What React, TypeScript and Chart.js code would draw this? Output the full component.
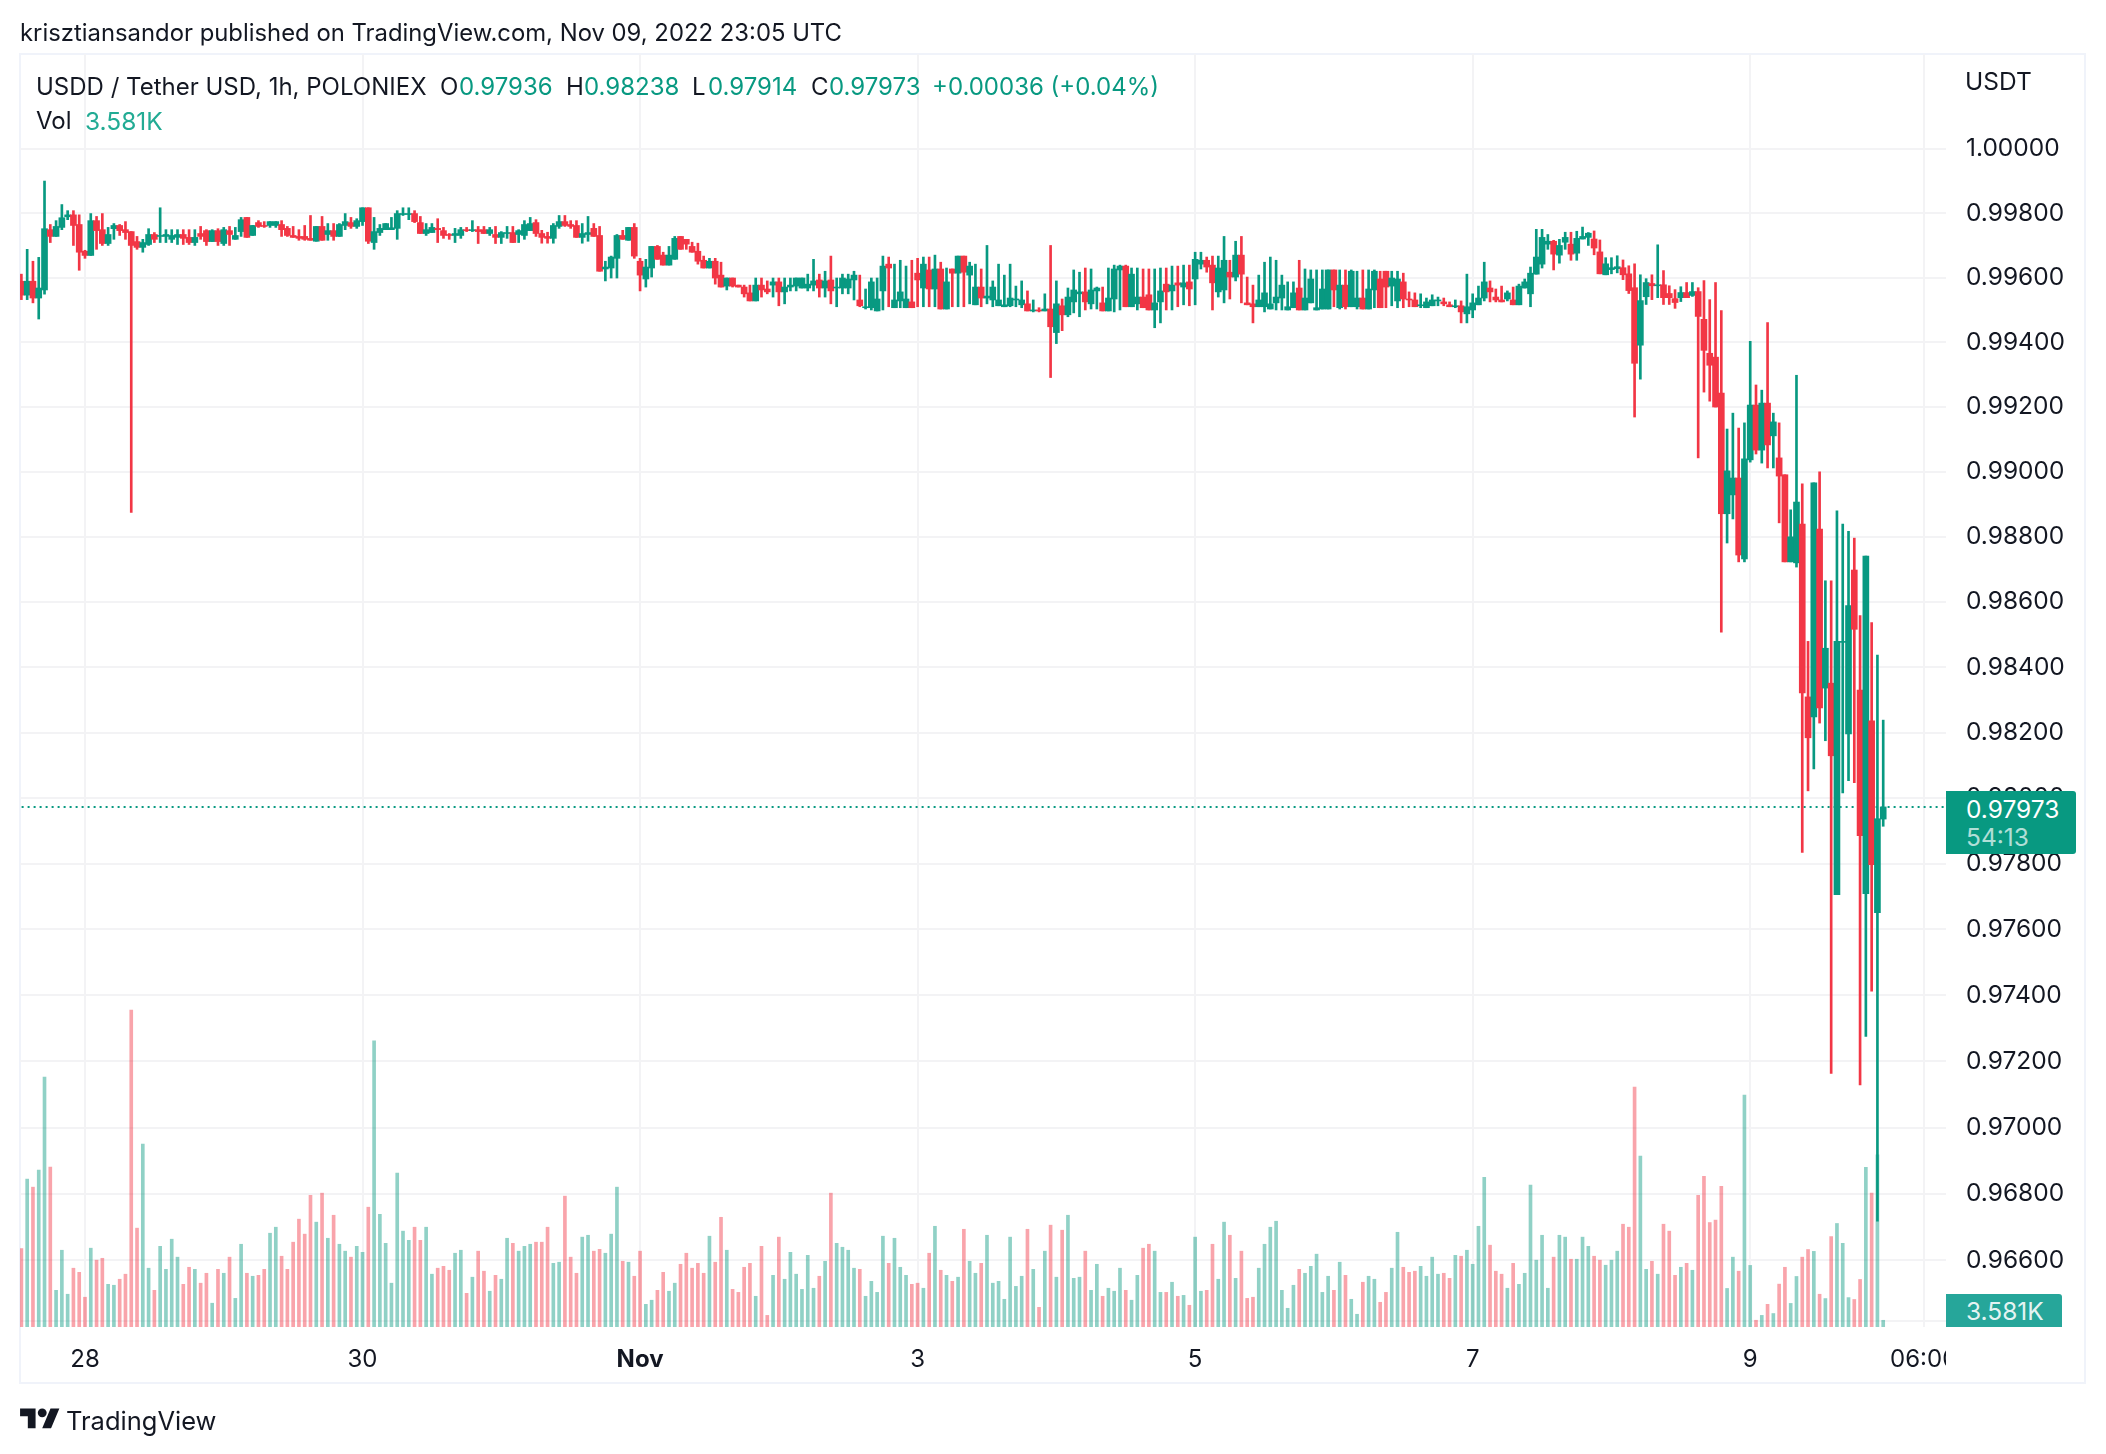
import { useEffect, useRef } from "react";
import { Chart, registerables } from "chart.js";

Chart.register(...registerables);

// USDD/USDT 1h candles, prices in 1/100000 USDT
const opens = [
  99589,99546,99589,99537,99562,99749,99728,99756,99789,99795,
  99765,99682,99669,99777,99749,99706,99752,99762,99749,99743,
  99712,99694,99703,99734,99728,99728,99719,99725,99734,99725,
  99709,99737,99746,99712,99746,99706,99746,99719,99743,99787,
  99731,99771,99762,99762,99762,99765,99753,99731,99728,99728,
  99722,99713,99759,99734,99746,99728,99762,99771,99759,99774,
  99817,99709,99740,99749,99749,99753,99796,99796,99799,99771,
  99737,99740,99753,99746,99734,99731,99731,99749,99746,99749,
  99749,99737,99734,99725,99737,99740,99734,99731,99746,99771,
  99737,99728,99722,99759,99774,99765,99762,99725,99734,99753,
  99731,99627,99630,99660,99731,99716,99756,99651,99596,99630,
  99697,99670,99639,99657,99728,99719,99697,99682,99654,99630,
  99651,99608,99574,99599,99577,99571,99553,99528,99577,99565,
  99577,99587,99556,99571,99574,99568,99568,99577,99593,99568,
  99593,99568,99568,99568,99593,99531,99507,99507,99497,99559,
  99642,99507,99528,99507,99525,99614,99568,99624,99565,99627,
  99503,99627,99614,99667,99608,99516,99571,99537,99531,99513,
  99510,99513,99531,99516,99519,99497,99500,99497,99503,99430,
  99513,99485,99525,99550,99556,99519,99559,99522,99497,99534,
  99624,99636,99510,99519,99540,99547,99500,99525,99580,99559,
  99584,99571,99587,99596,99642,99654,99639,99556,99562,99617,
  99602,99670,99522,99519,99510,99510,99503,99522,99537,99500,
  99507,99568,99500,99522,99500,99503,99503,99624,99507,99577,
  99510,99510,99537,99503,99562,99596,99620,99574,99528,99587,
  99534,99531,99513,99507,99513,99528,99525,99516,99510,99513,
  99488,99500,99516,99537,99568,99540,99531,99534,99531,99516,
  99568,99550,99611,99642,99704,99713,99670,99710,99704,99676,
  99720,99725,99720,99680,99609,99625,99628,99631,99612,99569,
  99391,99541,99582,99575,99578,99551,99535,99538,99554,99545,
  99557,99471,99366,99354,99243,98871,98929,98981,98732,99037,
  99206,99067,99212,99111,99043,98991,98723,98720,98839,98309,
  98248,98824,98336,98351,97706,98476,98196,98698,98330,97709,
  98236,97651,97936,
];
const highs = [
  99611,99688,99651,99663,99900,99765,99777,99827,99808,99808,
  99795,99685,99799,99790,99799,99756,99768,99765,99774,99743,
  99728,99719,99752,99740,99817,99749,99749,99749,99749,99749,
  99749,99759,99749,99749,99752,99756,99759,99756,99787,99787,
  99762,99777,99774,99774,99774,99777,99759,99759,99749,99762,
  99793,99759,99790,99768,99768,99768,99799,99787,99783,99817,
  99817,99787,99765,99768,99787,99808,99817,99817,99808,99790,
  99768,99768,99783,99756,99737,99753,99756,99756,99777,99759,
  99759,99756,99759,99743,99759,99759,99749,99777,99787,99780,
  99747,99741,99768,99793,99793,99777,99777,99768,99790,99768,
  99759,99651,99667,99734,99747,99756,99768,99660,99657,99697,
  99700,99679,99697,99728,99728,99719,99710,99707,99667,99660,
  99660,99648,99599,99599,99577,99577,99577,99599,99599,99590,
  99599,99599,99599,99599,99599,99599,99611,99657,99611,99620,
  99667,99599,99611,99611,99620,99608,99565,99599,99599,99667,
  99664,99642,99654,99636,99654,99660,99664,99664,99670,99648,
  99630,99627,99667,99667,99648,99642,99627,99700,99590,99642,
  99608,99642,99574,99590,99559,99531,99507,99550,99700,99590,
  99534,99568,99624,99617,99630,99627,99571,99571,99630,99639,
  99639,99639,99630,99630,99627,99627,99627,99630,99630,99636,
  99636,99639,99639,99679,99679,99664,99667,99667,99728,99654,
  99713,99728,99602,99577,99608,99648,99664,99654,99608,99587,
  99587,99654,99627,99624,99624,99624,99624,99624,99624,99624,
  99624,99620,99624,99624,99624,99620,99620,99620,99620,99614,
  99556,99553,99550,99537,99547,99540,99537,99525,99531,99528,
  99611,99550,99574,99648,99590,99565,99574,99559,99571,99580,
  99596,99633,99750,99750,99734,99716,99719,99741,99741,99744,
  99757,99740,99745,99717,99662,99662,99668,99655,99637,99643,
  99609,99597,99609,99702,99622,99575,99563,99572,99585,99585,
  99569,99591,99532,99585,99498,99132,99181,99135,99151,99403,
  99268,99252,99461,99181,99151,98991,98883,99298,98963,98479,
  98966,99000,98665,98665,98880,98839,98817,98796,98558,98741,
  98537,98437,98238,
];
const lows = [
  99532,99532,99522,99472,99549,99709,99728,99749,99780,99700,
  99623,99660,99669,99688,99700,99700,99719,99731,99719,98875,
  99688,99679,99700,99709,99709,99709,99709,99703,99703,99703,
  99700,99719,99700,99712,99700,99700,99700,99719,99728,99725,
  99731,99756,99756,99756,99756,99728,99728,99725,99716,99716,
  99716,99713,99716,99716,99716,99728,99749,99753,99753,99762,
  99706,99688,99731,99749,99749,99719,99793,99780,99771,99737,
  99731,99740,99709,99722,99719,99709,99722,99743,99743,99706,
  99737,99731,99706,99706,99722,99709,99709,99719,99746,99728,
  99707,99707,99707,99753,99759,99753,99725,99707,99713,99728,
  99620,99590,99599,99599,99719,99716,99660,99559,99571,99602,
  99657,99639,99639,99657,99688,99688,99679,99642,99630,99630,
  99580,99571,99562,99571,99571,99540,99528,99528,99540,99550,
  99540,99513,99519,99559,99559,99568,99559,99559,99540,99540,
  99519,99510,99550,99550,99531,99510,99503,99500,99497,99500,
  99510,99507,99507,99507,99507,99510,99510,99510,99510,99503,
  99503,99510,99510,99510,99519,99516,99510,99519,99510,99513,
  99510,99510,99510,99507,99497,99494,99494,99497,99291,99396,
  99436,99479,99491,99479,99500,99503,99503,99497,99497,99494,
  99500,99510,99510,99500,99507,99500,99445,99460,99500,99500,
  99510,99516,99513,99516,99627,99617,99500,99540,99522,99534,
  99590,99522,99516,99460,99510,99494,99503,99500,99500,99500,
  99507,99500,99500,99522,99500,99503,99503,99510,99503,99503,
  99510,99503,99503,99503,99507,99507,99507,99513,99507,99507,
  99510,99510,99507,99507,99513,99513,99513,99510,99507,99460,
  99460,99476,99516,99528,99525,99525,99525,99528,99516,99516,
  99568,99510,99611,99630,99688,99624,99645,99688,99654,99654,
  99720,99700,99671,99612,99609,99612,99615,99594,99551,99169,
  99286,99517,99532,99538,99517,99517,99505,99526,99538,99542,
  99043,99246,99218,99200,98507,98781,98855,98723,98723,99030,
  99055,99027,99012,99012,98843,98723,98723,98707,97834,98022,
  98089,98229,98175,97164,97706,98016,98053,98047,97129,97276,
  97413,96718,97914,
];
const closes = [
  99546,99589,99537,99568,99752,99728,99759,99786,99795,99762,
  99679,99669,99777,99746,99706,99734,99762,99746,99740,99700,
  99694,99709,99734,99719,99731,99734,99731,99734,99722,99709,
  99725,99728,99712,99746,99712,99749,99734,99731,99780,99725,
  99762,99759,99759,99774,99774,99749,99731,99725,99722,99719,
  99716,99759,99716,99746,99728,99765,99774,99759,99777,99817,
  99713,99743,99753,99768,99755,99799,99799,99799,99774,99737,
  99749,99756,99749,99731,99731,99737,99749,99746,99749,99743,
  99737,99749,99725,99740,99740,99709,99746,99765,99768,99737,
  99725,99722,99762,99774,99762,99759,99725,99737,99740,99728,
  99620,99633,99664,99731,99719,99756,99667,99608,99633,99697,
  99657,99639,99670,99722,99688,99704,99679,99651,99630,99651,
  99599,99571,99599,99574,99571,99550,99528,99577,99562,99556,
  99587,99556,99571,99577,99599,99599,99580,99590,99568,99590,
  99559,99571,99599,99596,99608,99513,99510,99587,99534,99636,
  99630,99531,99556,99534,99507,99593,99642,99565,99627,99503,
  99587,99614,99667,99617,99636,99571,99537,99543,99571,99531,
  99516,99537,99534,99531,99497,99500,99497,99503,99448,99519,
  99485,99540,99562,99556,99525,99562,99568,99497,99537,99627,
  99636,99510,99611,99540,99507,99500,99522,99559,99556,99577,
  99577,99584,99565,99657,99654,99633,99584,99630,99654,99602,
  99670,99611,99516,99510,99531,99553,99519,99540,99577,99510,
  99553,99500,99537,99596,99507,99565,99624,99562,99577,99510,
  99620,99537,99503,99565,99620,99507,99571,99599,99596,99534,
  99531,99510,99516,99525,99531,99531,99519,99510,99513,99494,
  99510,99522,99537,99587,99556,99531,99525,99553,99516,99574,
  99587,99614,99664,99725,99713,99673,99700,99725,99673,99722,
  99728,99738,99692,99612,99643,99631,99634,99609,99560,99335,
  99529,99585,99575,99578,99538,99538,99523,99554,99538,99557,
  99480,99375,99329,99200,98871,99003,98981,98744,99040,99206,
  99067,99212,99083,99154,98987,98723,98800,98907,98321,98184,
  98966,98275,98458,98129,98479,98479,98589,98516,97885,98741,
  97797,97937,97973,
];
// volume in thousands
const volumes = [
  41.9,79.0,74.7,83.8,133.5,85.4,19.6,41.0,17.5,31.4,
  29.2,15.9,42.1,35.7,36.7,22.8,22.3,25.5,28.2,169.3,
  52.8,97.7,31.4,19.6,43.1,30.8,46.9,37.3,22.8,31.9,
  30.8,23.4,28.7,12.7,30.8,28.7,37.3,15.3,44.2,28.7,
  27.1,27.6,30.8,50.1,53.3,37.8,30.8,45.3,57.6,49.6,
  70.4,56.0,71.5,47.4,59.7,44.2,40.5,37.3,43.1,39.9,
  64.0,152.8,60.2,44.7,23.4,82.2,51.2,46.3,53.3,46.3,
  53.3,28.2,31.4,32.4,30.3,39.4,41.0,18.0,26.6,40.5,
  29.8,19.1,27.6,25.5,47.4,44.7,40.5,43.1,44.2,45.3,
  45.3,53.3,34.0,34.6,69.9,37.3,28.7,48.0,49.0,40.5,
  41.5,39.4,49.6,74.7,35.1,34.6,27.1,40.5,12.1,14.3,
  19.6,29.2,19.1,23.4,33.5,39.4,31.4,34.0,28.7,48.5,
  34.6,58.6,41.0,20.1,18.5,31.9,34.0,16.4,43.1,6.2,
  27.6,48.0,25.5,39.9,28.2,20.1,38.3,20.7,27.1,35.1,
  71.5,44.7,42.6,41.0,31.4,30.8,16.4,24.4,18.5,48.5,
  34.0,47.4,31.9,27.6,22.8,23.4,20.7,39.4,53.8,30.3,
  27.6,24.4,26.6,52.2,35.1,28.7,34.0,49.0,23.4,24.4,
  14.8,48.0,21.7,27.1,52.2,30.8,10.5,40.5,54.4,26.6,
  51.7,59.7,26.0,26.6,40.5,19.6,33.5,16.4,20.7,19.1,
  31.4,19.6,14.3,27.6,42.1,44.2,40.5,18.5,18.5,23.9,
  16.4,16.9,11.6,48.0,19.1,19.6,44.2,25.5,56.0,49.0,
  26.0,40.5,15.3,15.9,31.4,44.2,53.3,56.5,19.6,10.0,
  22.3,30.8,28.7,32.4,38.9,18.5,27.1,19.6,34.6,27.6,
  14.8,6.8,23.9,27.1,25.5,13.2,18.5,31.4,50.6,31.9,
  29.2,29.8,32.4,27.1,37.3,28.2,28.7,26.0,38.3,37.8,
  41.0,33.5,53.8,80.0,43.7,29.8,28.2,20.7,34.0,22.8,
  28.7,75.8,35.7,49.0,20.7,37.3,49.0,48.0,36.2,36.2,
  48.0,43.1,37.8,35.7,33.0,35.7,40.5,54.9,53.3,128.2,
  91.3,30.8,35.1,28.2,54.9,51.2,27.6,31.9,34.0,30.3,
  70.4,80.5,55.8,57.1,75.1,20.6,37.3,29.8,123.9,32.9,
  3.6,6.2,12.1,7.2,22.9,31.9,12.6,27.0,37.3,41.4,
  40.4,17.5,15.2,48.3,55.3,44.7,15.7,14.7,25.4,85.3,
  71.5,92.0,3.581,
];
const priceTicks = [
  1.0,0.998,0.996,0.994,0.992,0.99,0.988,0.986,0.984,0.982,
  0.98,0.978,0.976,0.974,0.972,0.97,0.968,0.966,
];
// unlabelled gridline just above the time axis
const bottomGridPrice = 0.96418;
const dateTickBars = [11, 59, 107, 155, 203, 251, 299, 329];
const dateTickLabels = ["28", "30", "Nov", "3", "5", "7", "9", "06:00"];
const lastClose = 0.97973;

const UP = "#089981";
const DOWN = "#f23645";
const UP_VOL = "rgba(8,153,129,0.45)";
const DOWN_VOL = "rgba(242,54,69,0.45)";
const GRID = "#f3f3f5";
const FRAME = "#f0f3fa";
const INK = "#131722";
const FONT = "Inter, sans-serif";

const isUp = (i: number) => closes[i] >= opens[i];

const frame = {
  id: "frame",
  beforeDraw(chart: Chart) {
    const c = chart.ctx;
    c.save();
    c.fillStyle = "#ffffff";
    c.fillRect(0, 0, chart.width, chart.height);
    c.strokeStyle = FRAME;
    c.lineWidth = 2;
    c.strokeRect(20, 54, 2065, 1329);
    c.restore();
  },
  afterDraw(chart: Chart) {
    // time axis stops where the price axis starts
    const c = chart.ctx;
    c.save();
    c.fillStyle = "#ffffff";
    c.fillRect(1946, 1335, 60, 44);
    c.restore();
  },
};

function PriceChart() {
  const ref = useRef<HTMLCanvasElement | null>(null);

  useEffect(() => {
    const el = ref.current;
    if (!el) return;

    const bars = opens.map((_, i) => i);
    const chart = new Chart(el, {
      type: "bar",
      data: {
        datasets: [
          {
            label: "body",
            data: bars.map((i) => ({ x: i, y: [opens[i] / 1e5, closes[i] / 1e5] })),
            backgroundColor: bars.map((i) => (isUp(i) ? UP : DOWN)),
            barThickness: 6,
            yAxisID: "y",
            order: 1,
          },
          {
            label: "wick",
            data: bars.map((i) => ({ x: i, y: [lows[i] / 1e5, highs[i] / 1e5] })),
            backgroundColor: bars.map((i) => (isUp(i) ? UP : DOWN)),
            barThickness: 2,
            yAxisID: "y",
            order: 2,
          },
          {
            type: "line",
            label: "last",
            data: [
              { x: -1, y: lastClose },
              { x: 334, y: lastClose },
            ],
            borderColor: UP,
            borderWidth: 2,
            borderDash: [2, 4],
            pointRadius: 0,
            yAxisID: "y",
            order: 3,
          },
          {
            label: "volume",
            data: bars.map((i) => ({ x: i, y: volumes[i] })),
            backgroundColor: bars.map((i) => (isUp(i) ? UP_VOL : DOWN_VOL)),
            barThickness: 3,
            yAxisID: "y1",
            order: 4,
          },
        ] as any,
      },
      options: {
        responsive: false,
        animation: false,
        events: [],
        layout: { padding: { left: 20, top: 54, right: 0, bottom: 0 } },
        plugins: { legend: { display: false }, tooltip: { enabled: false } },
        datasets: { bar: { grouped: false } },
        scales: {
          x: {
            type: "linear",
            min: -0.24,
            max: 332.86,
            offset: false,
            grid: { offset: false, color: GRID, lineWidth: 2, drawTicks: false },
            border: { display: false },
            afterBuildTicks: (s: any) => {
              s.ticks = dateTickBars.map((value) => ({ value }));
            },
            afterFit: (s: any) => {
              s.height = 127;
            },
            ticks: {
              autoSkip: false,
              maxRotation: 0,
              padding: 18,
              color: INK,
              font: (ctx: any) => ({
                family: FONT,
                size: 24,
                weight: ctx.tick?.value === 107 ? "bold" : "normal",
              }),
              callback: (v: any) => dateTickLabels[dateTickBars.indexOf(Number(v))] ?? "",
            },
          },
          y: {
            type: "logarithmic",
            position: "right",
            min: 0.96411,
            max: 1.002958,
            grid: { color: GRID, lineWidth: 2, drawTicks: false },
            border: { display: false },
            afterBuildTicks: (s: any) => {
              s.ticks = [...priceTicks, bottomGridPrice].map((value) => ({ value }));
            },
            afterFit: (s: any) => {
              s.width = 160;
            },
            ticks: {
              autoSkip: false,
              padding: 20,
              color: INK,
              font: { family: FONT, size: 24.5 },
              callback: (v: any) => (Number(v) === bottomGridPrice ? "" : Number(v).toFixed(5)),
            },
          },
          y1: { type: "linear", display: false, min: 0, max: 680 },
        },
      },
      plugins: [frame],
    } as any);

    return () => chart.destroy();
  }, []);

  return (
    <canvas
      ref={ref}
      width={2106}
      height={1454}
      style={{ position: "absolute", left: 0, top: 0, display: "block" }}
    />
  );
}

function Label(props: { x: number; y: number; color?: string; size?: number; text: string }) {
  return (
    <span
      style={{
        position: "absolute",
        left: props.x,
        top: props.y,
        transform: "translateY(-50%)",
        color: props.color ?? INK,
        fontFamily: FONT,
        fontSize: props.size ?? 24,
        lineHeight: 1,
        whiteSpace: "nowrap",
      }}
    >
      {props.text}
    </span>
  );
}

export default function App() {
  return (
    <div style={{ position: "absolute", left: 0, top: 0, width: 2106, height: 1454, background: "#fff", overflow: "hidden" }}>
      <PriceChart />
      <Label x={20} y={32.5} size={23.85} text="krisztiansandor published on TradingView.com, Nov 09, 2022 23:05 UTC" />

      <Label x={36} y={86.5} text="USDD / Tether USD, 1h, POLONIEX" />
      <Label x={440} y={86.5} text="O" />
      <Label x={459} y={86.5} color={UP} text="0.97936" />
      <Label x={566} y={86.5} text="H" />
      <Label x={584} y={86.5} color={UP} text="0.98238" />
      <Label x={692} y={86.5} text="L" />
      <Label x={708} y={86.5} color={UP} text="0.97914" />
      <Label x={811} y={86.5} text="C" />
      <Label x={829} y={86.5} color={UP} text="0.97973" />
      <Label x={932} y={86.5} color={UP} text="+0.00036 (+0.04%)" />
      <Label x={36} y={121} text="Vol" />
      <Label x={85} y={121} size={24.5} color="#22ab94" text="3.581K" />

      <Label x={1965} y={81} size={24.5} text="USDT" />

      <div style={{ position: "absolute", left: 1946, top: 791, width: 130, height: 63, background: UP, borderRadius: "0 3px 3px 0" }} />
      <Label x={1966} y={809} size={24.5} color="#ffffff" text="0.97973" />
      <Label x={1966} y={837} size={24.5} color="rgba(255,255,255,0.7)" text="54:13" />
      <div style={{ position: "absolute", left: 1946, top: 1294, width: 116, height: 33, background: "#26a69a", borderRadius: "0 3px 0 0" }} />
      <Label x={1966} y={1311} size={24.5} color="rgba(255,255,255,0.9)" text="3.581K" />

      <svg width={40} height={31} viewBox="0 0 36 28" style={{ position: "absolute", left: 20, top: 1404 }}>
        <path d="M14 22H7V11H0V4h14v18zM28 22h-8l7.5-18h8L28 22z" fill={INK} />
        <circle cx="20" cy="8" r="4" fill={INK} />
      </svg>
      <Label x={66} y={1421} size={25.5} text="TradingView" />
    </div>
  );
}
